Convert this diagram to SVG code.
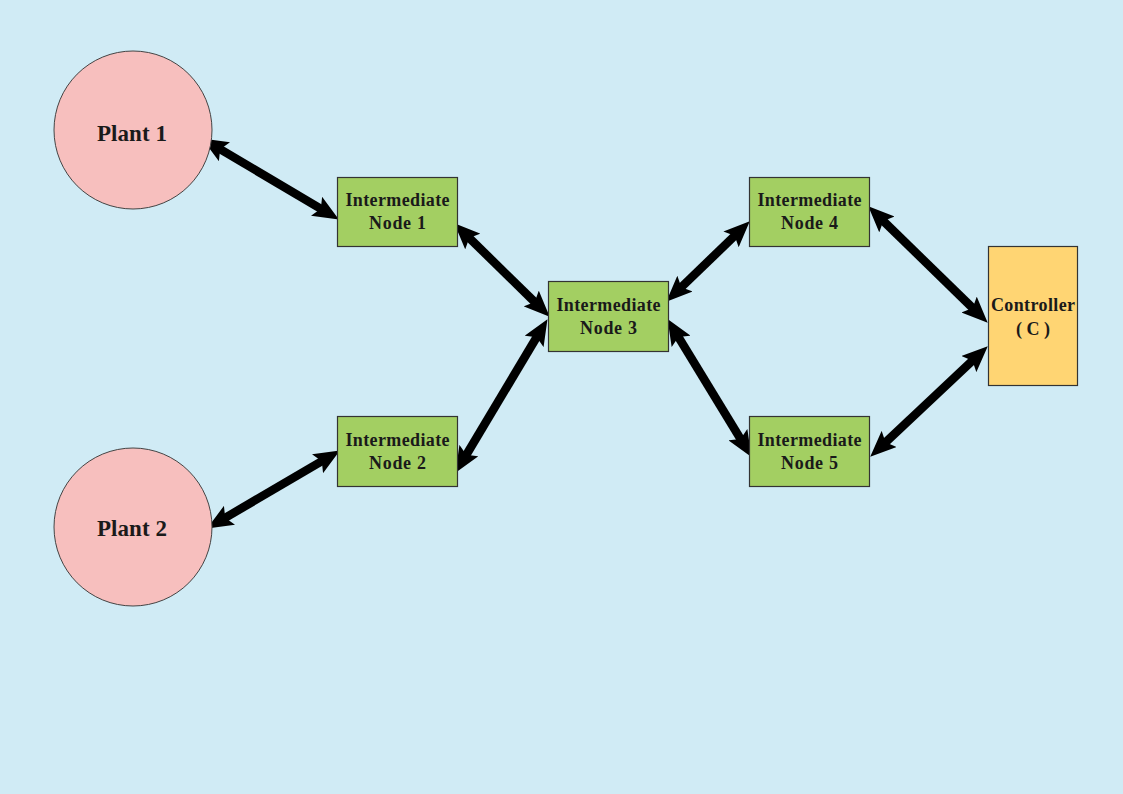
<svg xmlns="http://www.w3.org/2000/svg" width="1123" height="794" viewBox="0 0 1123 794">
<style>
.plant{fill:#F7BFBE;stroke:#444;stroke-width:1}
.node{fill:#A3CF62;stroke:#333;stroke-width:1.2}
.ctrl{fill:#FFD573;stroke:#333;stroke-width:1.2}
.t{font-family:"Liberation Serif",serif;font-weight:bold;fill:#1a1a1a;text-anchor:middle}
.tp{font-size:23px}
.tn{font-size:18px}
.c{stroke:#000;stroke-width:8.5;fill:none;marker-start:url(#ah);marker-end:url(#ah)}
</style>
<defs>
<marker id="ah" markerUnits="userSpaceOnUse" viewBox="0 0 26 22" refX="13" refY="11" markerWidth="26" markerHeight="22" orient="auto-start-reverse">
<path d="M0,0 L26,11 L0,22 L5,11 Z" fill="#000"/>
</marker>
</defs>
<rect x="0" y="0" width="1123" height="794" fill="#D0EBF5"/>
<g id="connectors">
<line class="c" x1="213.3" y1="145.1" x2="327.7" y2="212.9"/>
<line class="c" x1="463.6" y1="232.4" x2="540.4" y2="307.6"/>
<line class="c" x1="462.2" y1="461.7" x2="540.8" y2="330.3"/>
<line class="c" x1="218.3" y1="521.9" x2="328.7" y2="457.1"/>
<line class="c" x1="675.6" y1="292.7" x2="740.4" y2="230.3"/>
<line class="c" x1="674.3" y1="330.2" x2="744.7" y2="445.8"/>
<line class="c" x1="877.6" y1="215.4" x2="978.4" y2="313.6"/>
<line class="c" x1="879.7" y1="447.8" x2="978.3" y2="355.2"/>
</g>
<g id="plant1">
<circle class="plant" cx="133" cy="130" r="79"/>
<text class="t tp" x="132" y="141" textLength="70">Plant 1</text>
</g>
<g id="plant2">
<circle class="plant" cx="133" cy="527" r="79"/>
<text class="t tp" x="132" y="536" textLength="70">Plant 2</text>
</g>
<g id="node1">
<rect class="node" x="337.5" y="177.5" width="120" height="69"/>
<text class="t tn" x="397.5" y="206" textLength="104">Intermediate</text>
<text class="t tn" x="397.5" y="229" textLength="57">Node 1</text>
</g>
<g id="node2">
<rect class="node" x="337.5" y="416.5" width="120" height="70"/>
<text class="t tn" x="397.5" y="446" textLength="104">Intermediate</text>
<text class="t tn" x="397.5" y="469" textLength="57">Node 2</text>
</g>
<g id="node3">
<rect class="node" x="548.5" y="281.5" width="120" height="70"/>
<text class="t tn" x="608.5" y="311" textLength="104">Intermediate</text>
<text class="t tn" x="608.5" y="334" textLength="57">Node 3</text>
</g>
<g id="node4">
<rect class="node" x="749.5" y="177.5" width="120" height="69"/>
<text class="t tn" x="809.5" y="206" textLength="104">Intermediate</text>
<text class="t tn" x="809.5" y="229" textLength="57">Node 4</text>
</g>
<g id="node5">
<rect class="node" x="749.5" y="416.5" width="120" height="70"/>
<text class="t tn" x="809.5" y="446" textLength="104">Intermediate</text>
<text class="t tn" x="809.5" y="469" textLength="57">Node 5</text>
</g>
<g id="controller">
<rect class="ctrl" x="988.5" y="246.5" width="89" height="139"/>
<text class="t tn" x="1033" y="311" textLength="84">Controller</text>
<text class="t tn" x="1033" y="335" textLength="34">( C )</text>
</g>
</svg>
